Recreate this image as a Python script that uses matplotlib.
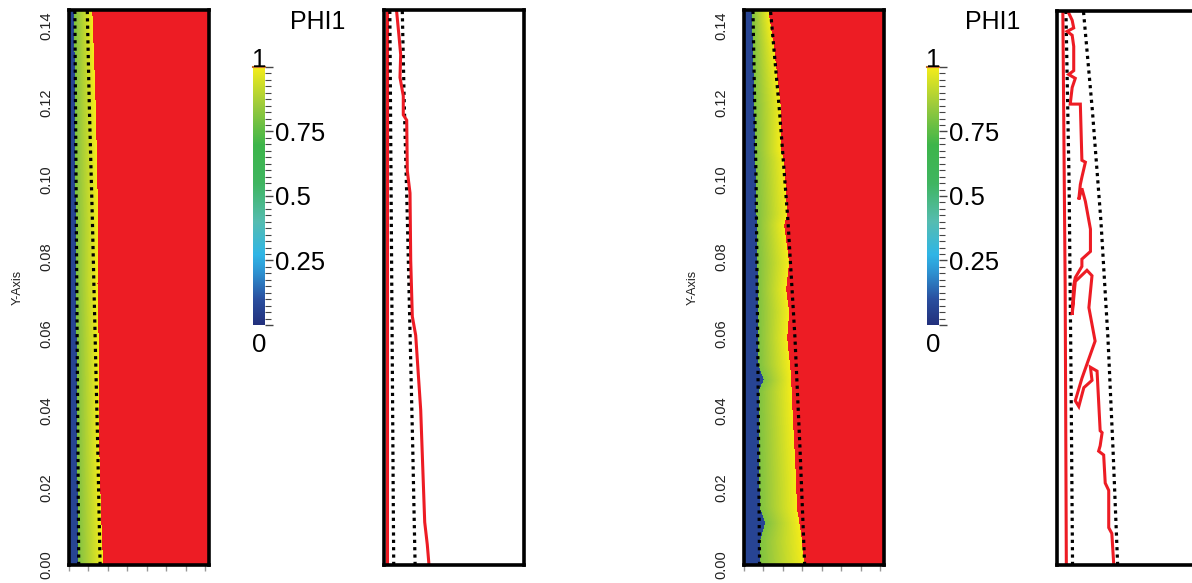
import numpy as np
import matplotlib
matplotlib.use("Agg")
import matplotlib.pyplot as plt
from matplotlib.colors import LinearSegmentedColormap
from matplotlib.ticker import MultipleLocator

plt.rcParams["font.family"] = ["Liberation Sans", "DejaVu Sans"]

# domain (m)
XMAX = 0.036
YMAX = 0.144
Y_TICKS = [0.00, 0.02, 0.04, 0.06, 0.08, 0.10, 0.12, 0.14]
CB_TICKS = [0.0, 0.25, 0.5, 0.75, 1.0]
CB_LABELS = ["", "0.25", "0.5", "0.75", ""]

# phase values used for the field
PHI_BLUE = 0.07
PHI_LOW = 0.80
PHI_SOLID = 1.5  # above colour range -> red

# ---- case 1 (left) ----
blue1_y = [0.0, 0.072, 0.144]
blue1_x = [0.0023, 0.0018, 0.0013]
dot1_in_y = [0.0, 0.072, 0.144]
dot1_in_x = [0.0025, 0.0020, 0.0015]
dot1_out_y = [0.0, 0.03, 0.06, 0.09, 0.12, 0.144]
dot1_out_x = [0.0080, 0.0074, 0.0067, 0.0060, 0.0052, 0.0047]
front1_y = [0.0, 0.0010, 0.0138, 0.0286, 0.0434, 0.0582, 0.0730, 0.0878,
            0.1026, 0.1174, 0.1322, 0.1430, 0.144]
front1_x = [0.0088, 0.0087, 0.0082, 0.0078, 0.0077, 0.0076, 0.0073, 0.0075,
            0.0072, 0.0069, 0.0064, 0.0060, 0.0060]
wall1_y = [0.0, 0.144]
wall1_x = [0.0008, 0.0008]
red1_y = [0.0, 0.0053, 0.0111, 0.0402, 0.0596, 0.0645, 0.0790, 0.0965, 0.1023,
          0.1154, 0.1168, 0.1217, 0.1265, 0.1324, 0.1372, 0.1435, 0.144]
red1_x = [0.01157, 0.01113, 0.01047, 0.00944, 0.00815, 0.00728, 0.00687, 0.00669,
          0.00599, 0.00584, 0.00496, 0.00496, 0.00411, 0.00429, 0.00386, 0.00326, 0.0032]

# ---- case 2 (right) ----
blue2_y = [0.0, 0.006, 0.0108, 0.015, 0.045, 0.048, 0.052, 0.08, 0.10, 0.12, 0.144]
blue2_x = [0.0040, 0.0040, 0.0054, 0.0040, 0.0037, 0.0050, 0.0037, 0.0034,
           0.0030, 0.0026, 0.0020]
dot2_in_y = [0.0, 0.05, 0.10, 0.144]
dot2_in_x = [0.0040, 0.0036, 0.0031, 0.0023]
dot2_out_y = [0.0, 0.0302, 0.0590, 0.0893, 0.1181, 0.144]
dot2_out_x = [0.0156, 0.0144, 0.0131, 0.0113, 0.0091, 0.0068]
front2_y = [0.0, 0.0010, 0.0078, 0.0147, 0.0216, 0.0431, 0.0490, 0.0588, 0.0656,
            0.0715, 0.0784, 0.0882, 0.0911, 0.1048, 0.1078, 0.1185, 0.1342,
            0.1430, 0.144]
front2_x = [0.0158, 0.0154, 0.0147, 0.0136, 0.0134, 0.0123, 0.0121, 0.0111, 0.0116,
            0.0108, 0.0116, 0.0103, 0.0111, 0.0103, 0.0095, 0.0095, 0.0077,
            0.0064, 0.0063]
wall2_y = [0.0, 0.072, 0.144]
wall2_x = [0.0024, 0.0021, 0.0015]
red2_y = [0.1435, 0.1416, 0.1396, 0.1387, 0.1377, 0.1348, 0.1285, 0.1275, 0.1265,
          0.1241, 0.1198, 0.1198, 0.1052, 0.1047, 0.1008, 0.0989, 0.0950, 0.0979,
          0.0945, 0.0873, 0.0815, 0.0795, 0.0776, 0.0747, 0.0727, 0.0650, 0.0737,
          0.0766, 0.0752, 0.0669, 0.0582, 0.0485, 0.0427, 0.0412, 0.0461, 0.0480,
          0.0514, 0.0504, 0.0349, 0.0344, 0.0310, 0.0296, 0.0286, 0.0213, 0.0194,
          0.0097, 0.0082, 0.0]
red2_x = [0.0030, 0.0039, 0.0043, 0.0026, 0.0039, 0.0043, 0.0043, 0.0030, 0.0047,
          0.0039, 0.0034, 0.0060, 0.0064, 0.0073, 0.0064, 0.0060, 0.0056, 0.0064,
          0.0073, 0.0086, 0.0086, 0.0064, 0.0064, 0.0047, 0.0043, 0.0039, 0.0047,
          0.0077, 0.0090, 0.0082, 0.0098, 0.0064, 0.0047, 0.0056, 0.0069, 0.0090,
          0.0086, 0.0103, 0.0111, 0.0116, 0.0111, 0.0107, 0.0120, 0.0124, 0.0133,
          0.0133, 0.0141, 0.0146]

RED = "#ED1C24"
W, H = 1192, 583

cmap = LinearSegmentedColormap.from_list("phi", [
    (0.00, "#22307c"), (0.10, "#2a4f9f"), (0.20, "#2d8fcf"), (0.27, "#2fb5e6"),
    (0.40, "#55bcb0"), (0.55, "#3fb560"), (0.70, "#3db54a"), (0.85, "#9bca3c"),
    (1.00, "#f4ec1a")])
cmap.set_over(RED)


def px_axes(fig, x0, y0, w, h):
    return fig.add_axes([x0 / W, 1 - (y0 + h) / H, w / W, h / H])


def box(ax):
    ax.set_xlim(0, XMAX)
    ax.set_ylim(0, YMAX)
    for s in ax.spines.values():
        s.set_linewidth(2.6)
        s.set_color("black")


def dotted(ax, x, y):
    ax.plot(x, y, color="black", lw=2.3, linestyle=(0, (1, 1.3)),
            dash_capstyle="butt")


def draw_field(ax, by, bx, fy, fx, din, dout):
    yg = np.linspace(0, YMAX, 700)
    xg = np.linspace(0, XMAX, 420)
    xb = np.interp(yg, by, bx)[:, None]
    xf = np.interp(yg, fy, fx)[:, None]
    X = xg[None, :]
    ramp = PHI_LOW + (1 - PHI_LOW) * np.clip((X - xb) / (xf - xb), 0, 1)
    phi = np.where(X < xb, PHI_BLUE, ramp)
    phi = np.where(X > xf, PHI_SOLID, phi)
    im = ax.imshow(phi, extent=(0, XMAX, 0, YMAX), origin="lower", aspect="auto",
                   cmap=cmap, vmin=0, vmax=1, interpolation="nearest")
    dotted(ax, din[0], din[1])
    dotted(ax, dout[0], dout[1])
    box(ax)
    ax.set_yticks(Y_TICKS)
    ax.set_yticklabels([f"{v:.2f}" for v in Y_TICKS])
    ax.tick_params(axis="y", length=0, pad=11, labelsize=10.5,
                   labelcolor="#222222")
    for lbl in ax.get_yticklabels():
        lbl.set_rotation(90)
        lbl.set_va("center")
    ax.xaxis.set_major_locator(MultipleLocator(0.005))
    ax.tick_params(axis="x", direction="out", length=4, width=1,
                   color="#999999", labelbottom=False)
    ax.text(-51 / 140, 0.5, "Y-Axis", transform=ax.transAxes, rotation=90,
            ha="center", va="center", fontsize=9, color="#222222")
    return im


def draw_cbar(fig, im, cax, title_x):
    cb = fig.colorbar(im, cax=cax, ticks=CB_TICKS)
    cb.ax.set_yticklabels(CB_LABELS)
    cb.outline.set_visible(False)
    cb.ax.yaxis.set_minor_locator(MultipleLocator(0.025))
    cb.ax.tick_params(which="major", length=6, width=1, color="#444444",
                      labelsize=18.5, pad=1)
    cb.ax.tick_params(which="minor", length=4, width=0.8, color="#444444")
    cb.ax.axhline(1.0, color="#c0702a", lw=1.5, clip_on=False)
    cb.ax.text(0.5, 1.0, "1", transform=cb.ax.transAxes, ha="center",
               va="baseline", fontsize=18.5)
    cb.ax.text(0.55, -0.03, "0", transform=cb.ax.transAxes, ha="center",
               va="top", fontsize=18.5)
    fig.text(title_x / W, 1 - 22 / H, "PHI1", ha="center", va="center",
             fontsize=18)


def draw_lines(ax, wall, red, din, dout):
    ax.plot(wall[0], wall[1], color=RED, lw=2.2)
    dotted(ax, din[0], din[1])
    dotted(ax, dout[0], dout[1])
    ax.plot(red[0], red[1], color=RED, lw=2.2, solid_joinstyle="miter")
    box(ax)
    ax.set_xticks([])
    ax.set_yticks([])


def main():
    fig = plt.figure(figsize=(W / 100, H / 100), dpi=100)
    fig.patch.set_facecolor("white")

    # left case
    f1 = px_axes(fig, 69, 10, 140, 555)
    im1 = draw_field(f1, blue1_y, blue1_x, front1_y, front1_x,
                     (dot1_in_x, dot1_in_y), (dot1_out_x, dot1_out_y))
    draw_cbar(fig, im1, px_axes(fig, 253, 67, 12, 258), 318)
    l1 = px_axes(fig, 384, 10, 140, 555)
    draw_lines(l1, (wall1_x, wall1_y), (red1_x, red1_y),
               (dot1_in_x, dot1_in_y), (dot1_out_x, dot1_out_y))

    # right case
    f2 = px_axes(fig, 744, 10, 140, 555)
    im2 = draw_field(f2, blue2_y, blue2_x, front2_y, front2_x,
                     (dot2_in_x, dot2_in_y), (dot2_out_x, dot2_out_y))
    draw_cbar(fig, im2, px_axes(fig, 927, 67, 12, 258), 993)
    l2 = px_axes(fig, 1057, 11, 140, 554)
    draw_lines(l2, (wall2_x, wall2_y), (red2_x, red2_y),
               (dot2_in_x, dot2_in_y), (dot2_out_x, dot2_out_y))

    fig.savefig("out.png", dpi=100)
    plt.close(fig)


if __name__ == "__main__":
    main()
